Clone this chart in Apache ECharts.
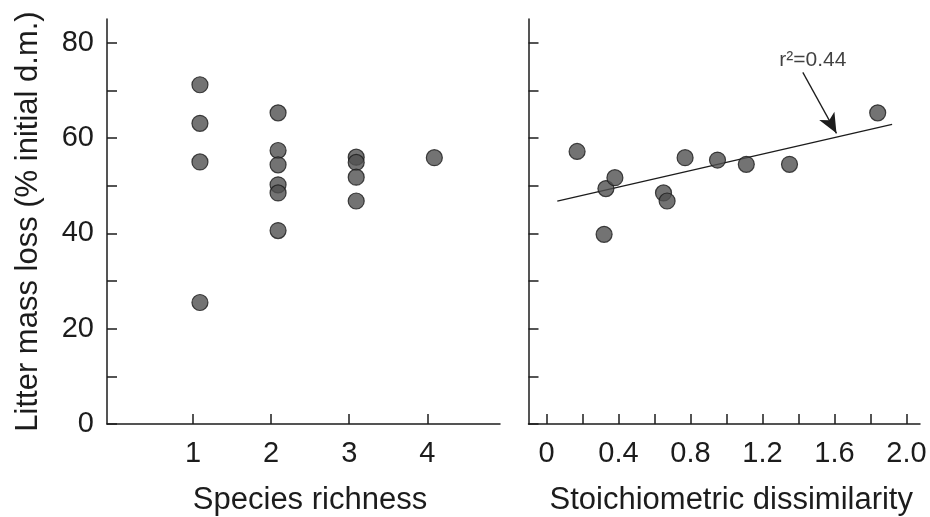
<!DOCTYPE html>
<html>
<head>
<meta charset="utf-8">
<script src="https://cdn.jsdelivr.net/npm/echarts@6/dist/echarts.min.js"></script>
<style>
  html, body { margin: 0; padding: 0; background: #fff; }
  #chart { width: 930px; height: 517px; }
</style>
</head>
<body>
<div id="chart"></div>
<script>
// Litter mass loss vs. species richness (left) and stoichiometric dissimilarity (right)

// Left panel: [species richness, litter mass loss %]
const richnessPoints = [
  [1, 71.2], [1, 63.1], [1, 55.0], [1, 25.5],
  [2, 65.3], [2, 57.4], [2, 54.4], [2, 50.2], [2, 48.5], [2, 40.6],
  [3, 56.0], [3, 54.9], [3, 51.8], [3, 46.8],
  [4, 55.9]
];

// Right panel: [stoichiometric dissimilarity, litter mass loss %]
const dissimilarityPoints = [
  [0.17, 57.2], [0.33, 49.4], [0.38, 51.7], [0.32, 39.8],
  [0.65, 48.5], [0.67, 46.8], [0.77, 55.9], [0.95, 55.4],
  [1.11, 54.5], [1.35, 54.5], [1.84, 65.3]
];

// Fitted regression line end points
const fitLine = [[0.06, 46.8], [1.92, 62.9]];
const fitLabel = 'r²=0.44';
const fitLabelPos = [1.48, 76.4];
const arrowStart = [1.424, 73.8];
const arrowEnd = [1.611, 61.0];

// Axis ticks and labels
const yTicks = [0, 10, 20, 30, 40, 50, 60, 70, 80];
const yLabels = [0, 20, 40, 60, 80];
const richnessTicks = [1, 2, 3, 4];
const dissimTicks = [0, 0.2, 0.4, 0.6, 0.8, 1.0, 1.2, 1.4, 1.6, 1.8, 2.0];
const dissimLabels = [0, 0.4, 0.8, 1.2, 1.6, 2.0];
const dissimLabelText = ['0', '0.4', '0.8', '1.2', '1.6', '2.0'];

const ink = '#1c1c1c';
const font = '"Liberation Sans", Arial, sans-serif';

const axisLine = { show: true, onZero: false, lineStyle: { color: ink, width: 1.5 } };
const axisTickBase = { show: true, inside: true, length: 10, lineStyle: { color: ink, width: 1.5 } };
const yLabelStyle = { color: ink, fontSize: 29, margin: 13, fontFamily: font };
const xLabelStyle = { color: ink, fontSize: 29, margin: 15, fontFamily: font };
const titleStyle = { color: ink, fontSize: 31, fontFamily: font };

const marker = {
  symbol: 'circle',
  symbolSize: 16,
  itemStyle: { color: '#505050', borderColor: '#1a1a1a', borderWidth: 1.2 }
};

const chart = echarts.init(document.getElementById('chart'), null, { renderer: 'canvas' });

chart.setOption({
  backgroundColor: '#fff',
  animation: false,
  textStyle: { fontFamily: font },
  grid: [
    { left: 107, right: 430, top: 19, bottom: 93, outerBoundsMode: 'none', containLabel: false },
    { left: 528.5, right: 10, top: 19, bottom: 93, outerBoundsMode: 'none', containLabel: false }
  ],
  xAxis: [
    {
      gridIndex: 0, type: 'value', min: -0.1, max: 4.93,
      axisLine: axisLine,
      axisTick: Object.assign({}, axisTickBase, { customValues: richnessTicks }),
      axisLabel: Object.assign({ customValues: richnessTicks }, xLabelStyle),
      splitLine: { show: false },
      name: 'Species richness', nameLocation: 'middle', nameGap: 61,
      nameTextStyle: Object.assign({ padding: [0, 0, 0, 13] }, titleStyle)
    },
    {
      gridIndex: 1, type: 'value', min: -0.1, max: 2.075,
      axisLine: axisLine,
      axisTick: Object.assign({}, axisTickBase, { customValues: dissimTicks }),
      axisLabel: Object.assign({
        customValues: dissimLabels,
        formatter: v => dissimLabelText[dissimLabels.findIndex(d => Math.abs(d - v) < 1e-6)]
      }, xLabelStyle),
      splitLine: { show: false },
      name: 'Stoichiometric dissimilarity', nameLocation: 'middle', nameGap: 61,
      nameTextStyle: Object.assign({ padding: [0, 0, 0, 14] }, titleStyle)
    }
  ],
  yAxis: [
    {
      gridIndex: 0, type: 'value', min: 0, max: 85,
      axisLine: axisLine,
      axisTick: Object.assign({}, axisTickBase, { customValues: yTicks }),
      axisLabel: Object.assign({ customValues: yLabels }, yLabelStyle),
      splitLine: { show: false },
      name: 'Litter mass loss (% initial d.m.)', nameLocation: 'middle', nameGap: 63,
      nameTextStyle: titleStyle
    },
    {
      gridIndex: 1, type: 'value', min: 0, max: 85,
      axisLine: axisLine,
      axisTick: Object.assign({}, axisTickBase, { customValues: yTicks }),
      axisLabel: { show: false },
      splitLine: { show: false }
    }
  ],
  series: [
    Object.assign({
      type: 'scatter', xAxisIndex: 0, yAxisIndex: 0,
      data: richnessPoints,
      symbolOffset: [7, 0]
    }, marker),
    {
      type: 'line', xAxisIndex: 1, yAxisIndex: 1,
      data: fitLine, symbol: 'none',
      lineStyle: { color: ink, width: 1.3 },
      z: 1,
      markLine: {
        silent: true,
        symbol: ['none', 'arrow'],
        symbolSize: [13, 20],
        lineStyle: { color: ink, width: 1.3, type: 'solid' },
        label: { show: false },
        data: [[{ coord: arrowStart }, { coord: arrowEnd }]]
      }
    },
    Object.assign({
      type: 'scatter', xAxisIndex: 1, yAxisIndex: 1,
      data: dissimilarityPoints, z: 3
    }, marker),
    {
      type: 'scatter', xAxisIndex: 1, yAxisIndex: 1,
      data: [fitLabelPos], symbolSize: 0,
      label: {
        show: true, position: 'inside', formatter: fitLabel,
        color: '#111', fontSize: 21, fontFamily: font
      }
    }
  ]
});
</script>
</body>
</html>
